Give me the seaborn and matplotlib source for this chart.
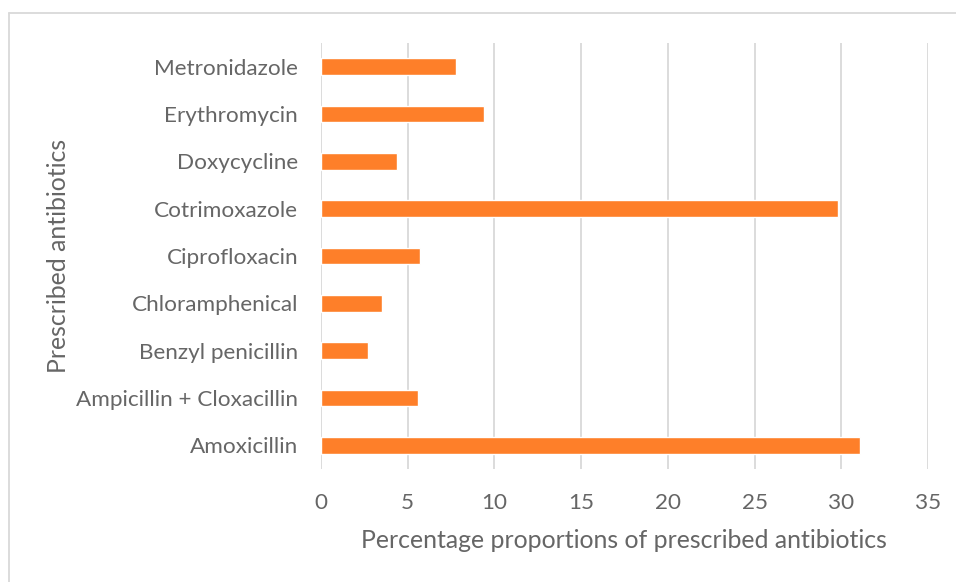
import matplotlib
matplotlib.use("Agg")
import matplotlib.pyplot as plt
import seaborn as sns
import pandas as pd
from matplotlib.lines import Line2D

antibiotics = ["Metronidazole", "Erythromycin", "Doxycycline", "Cotrimoxazole",
               "Ciprofloxacin", "Chloramphenical", "Benzyl penicillin",
               "Ampicillin + Cloxacillin", "Amoxicillin"]
percentages = [7.8, 9.4, 4.4, 29.8, 5.7, 3.5, 2.7, 5.6, 31.1]
x_ticks = [0, 5, 10, 15, 20, 25, 30, 35]

df = pd.DataFrame({"antibiotic": antibiotics, "pct": percentages})

sns.set_theme(style="white")
plt.rcParams["font.family"] = ["Lato", "DejaVu Sans"]

fig = plt.figure(figsize=(9.56, 5.82), dpi=100)
ax = fig.add_axes([321/956, 1-469/582, 607/956, 426/582])

sns.barplot(data=df, x="pct", y="antibiotic", order=antibiotics, orient="h",
            color="#FE7F29", saturation=1, width=0.35, ax=ax, zorder=3)

ax.set_xlim(0, 35)
ax.set_ylim(8.5, -0.5)
ax.set_xticks(x_ticks)
ax.set_xticklabels([str(t) for t in x_ticks])
ax.grid(axis="x", color="#D9D9D9", linewidth=1.3, zorder=0)
ax.grid(axis="y", visible=False)
for s in ax.spines.values():
    s.set_visible(False)
ax.tick_params(axis="both", length=0, colors="#666666", labelsize=16.2)
ax.tick_params(axis="x", pad=17)
ax.tick_params(axis="y", pad=16.5)

ax.set_xlabel("Percentage proportions of prescribed antibiotics", fontsize=17.9,
              color="#666666")
ax.set_ylabel("Prescribed antibiotics", fontsize=17.9, color="#666666")
ax.yaxis.set_label_coords((58 - 321) / 607, 0.5)
ax.xaxis.set_label_coords((624 - 321) / 607, -(541 - 469) / 426)
ax.xaxis.label.set_verticalalignment("center")
ax.yaxis.label.set_verticalalignment("center")

# outer chart border (top and left visible)
fig.add_artist(Line2D([9/956, 9/956], [0, 1-13/582], transform=fig.transFigure,
                      color="#D9D9D9", linewidth=1.3))
fig.add_artist(Line2D([9/956, 1], [1-13/582, 1-13/582], transform=fig.transFigure,
                      color="#D9D9D9", linewidth=1.3))

fig.savefig("out.png", dpi=100)
